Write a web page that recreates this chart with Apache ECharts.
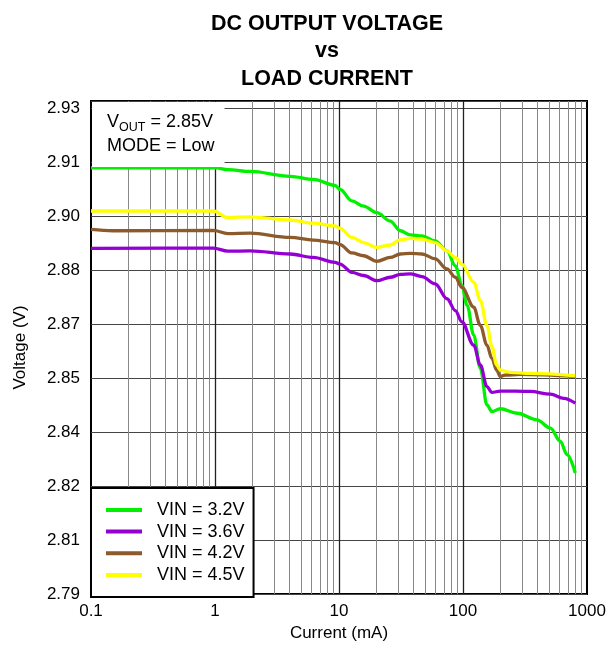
<!DOCTYPE html>
<html>
<head>
<meta charset="utf-8">
<script src="https://cdn.jsdelivr.net/npm/echarts@6/dist/echarts.min.js"></script>
<style>
  html, body { margin: 0; padding: 0; background: #fff; }
  #chart { width: 609px; height: 647px; }
</style>
</head>
<body>
<div id="chart"></div>
<script>
// load current (mA) / output voltage (V)
const vin32 = [
  [0.1, 2.9128], [0.5, 2.9128], [1.03, 2.9128], [1.27, 2.9123], [1.92, 2.9118],
  [4.04, 2.9104], [6.23, 2.9095], [9.3, 2.9078], [10.2, 2.9066], [12.7, 2.9033],
  [15.8, 2.9018], [20.2, 2.8999], [25.9, 2.8975], [31.2, 2.8947], [37.6, 2.8935],
  [46.7, 2.8932], [59.7, 2.8918], [74.3, 2.8889], [86.7, 2.8846], [98, 2.8789],
  [108, 2.8732], [122, 2.8646], [138, 2.8550], [156, 2.8445], [171, 2.8426],
  [200, 2.8434], [273, 2.8421], [395, 2.8402], [507, 2.8378], [610, 2.8340],
  [690, 2.8302], [805, 2.8249]
];
const vin36 = [
  [0.1, 2.8896], [0.97, 2.8897], [1.27, 2.8888], [1.92, 2.8889], [4.04, 2.8880],
  [6.2, 2.8870], [9.3, 2.8856], [10.2, 2.8851], [12.7, 2.8827], [15.8, 2.8818],
  [20.2, 2.8803], [25.9, 2.8813], [31.2, 2.8821], [37.6, 2.8823], [46.7, 2.8815],
  [59.7, 2.8794], [74.3, 2.8751], [86.7, 2.8717], [98, 2.8684], [122, 2.8617],
  [138, 2.8560], [156, 2.8498], [171, 2.8481], [200, 2.8485], [349, 2.8484],
  [507, 2.8476], [650, 2.8464], [805, 2.8450]
];
const vin42 = [
  [0.1, 2.8951], [0.15, 2.8947], [0.97, 2.8948], [1.27, 2.8939], [1.92, 2.8940],
  [4.04, 2.8928], [6.2, 2.8920], [9.3, 2.8913], [10.2, 2.8907], [12.7, 2.8883],
  [15.8, 2.8875], [20.2, 2.8859], [25.9, 2.8870], [31.2, 2.8880], [37.6, 2.8882],
  [46.7, 2.8880], [59.7, 2.8866], [74.3, 2.8837], [86.7, 2.8813], [98, 2.8784],
  [122, 2.8727], [138, 2.8674], [156, 2.8617], [171, 2.8579], [187, 2.8545],
  [200, 2.8527], [218, 2.8531], [290, 2.8533], [805, 2.8527]
];
const vin45 = [
  [0.1, 2.9004], [0.97, 2.9004], [1.27, 2.8985], [1.92, 2.8987], [4.04, 2.8978],
  [6.2, 2.8969], [9.3, 2.8961], [10.2, 2.8954], [12.7, 2.8928], [15.8, 2.8913],
  [20.2, 2.8899], [25.9, 2.8906], [31.2, 2.8921], [37.6, 2.8925], [46.7, 2.8923],
  [59.7, 2.8913], [74.3, 2.8889], [86.7, 2.8870], [98, 2.8851], [122, 2.8799],
  [138, 2.8746], [156, 2.8674], [171, 2.8613], [187, 2.8560], [200, 2.8545],
  [241, 2.8539], [349, 2.8536], [805, 2.8529]
];

const seriesNames = ['VIN = 3.2V', 'VIN = 3.6V', 'VIN = 4.2V', 'VIN = 4.5V'];
const seriesColors = ['#00f000', '#9400d3', '#8c5a2b', '#ffff00'];

const xTickLabels = ['0.1', '1', '10', '100', '1000'];
const yTickLabels = ['2.79', '2.81', '2.82', '2.84', '2.85', '2.87', '2.88', '2.90', '2.91', '2.93'];

// y axis: 9 equal steps from 2.79 to 2.93, frame sits a little above the top line
const yMin = 2.79;
const yStep = 0.14 / 9;
const yMax = 2.9321;

// vertical grid: decades dark, 2..9 in every decade grey
const majorLines = [1, 10, 100].map(v => ({ xAxis: v }));
const minorLines = [];
[0.1, 1, 10, 100].forEach(d => {
  for (let m = 2; m <= 9; m++) minorLines.push({ xAxis: +(m * d).toPrecision(3) });
});

const font = '"Liberation Sans", Arial, sans-serif';
const chart = echarts.init(document.getElementById('chart'));

const gridLineSeries = (lines, color, width) => ({
  type: 'line',
  data: [],
  z: 1,
  silent: true,
  markLine: {
    z: 1,
    silent: true,
    symbol: 'none',
    label: { show: false },
    lineStyle: { color: color, width: width, type: 'solid' },
    data: lines
  }
});

const lineSeries = [vin32, vin36, vin42, vin45].map((data, i) => ({
  name: seriesNames[i],
  type: 'line',
  data: data,
  color: seriesColors[i],
  symbol: 'none',
  smooth: 0.35,
  smoothMonotone: 'x',
  lineStyle: { width: 3.3 },
  z: 3
}));

chart.setOption({
  animation: false,
  title: [
    {
      text: 'DC OUTPUT VOLTAGE\nvs\nLOAD CURRENT',
      left: 322,
      top: 5,
      textAlign: 'center',
      textStyle: { fontFamily: font, fontSize: 21.5, fontWeight: 'bold', color: '#000', lineHeight: 27.5 }
    },
    {
      // conditions box in the top-left corner of the plot, white so it hides the grid
      text: '{a|V}{b|OUT}{a| = 2.85V}\n{a|MODE = Low}',
      left: 92,
      top: 102,
      z: 10,
      padding: [8, 10, 9, 15],
      backgroundColor: '#fff',
      textStyle: {
        fontFamily: font, fontSize: 18, fontWeight: 'normal', color: '#000', lineHeight: 24,
        rich: {
          a: { fontFamily: font, fontSize: 18, lineHeight: 24, color: '#000' },
          b: { fontFamily: font, fontSize: 12.5, lineHeight: 14, verticalAlign: 'bottom', color: '#000' }
        }
      }
    }
  ],
  grid: {
    left: 91, right: 22, top: 101, bottom: 50,
    show: true, borderColor: '#000', borderWidth: 2
  },
  xAxis: {
    type: 'log',
    logBase: 10,
    min: 0.1,
    max: 1000,
    name: 'Current (mA)',
    nameLocation: 'middle',
    nameGap: 31,
    nameTextStyle: { fontFamily: font, fontSize: 17, color: '#000' },
    axisLine: { show: false },
    axisTick: { show: false },
    axisLabel: {
      fontFamily: font, fontSize: 17, color: '#000', margin: 9,
      formatter: v => xTickLabels[Math.round(Math.log10(v)) + 1]
    },
    splitLine: { show: false }
  },
  yAxis: {
    type: 'value',
    min: yMin,
    max: yMax,
    interval: yStep,
    name: 'Voltage (V)',
    nameLocation: 'middle',
    nameGap: 62,
    nameTextStyle: { fontFamily: font, fontSize: 17, color: '#000' },
    axisLine: { show: false },
    axisTick: { show: false },
    axisLabel: {
      fontFamily: font, fontSize: 17, color: '#000', margin: 11,
      formatter: v => {
        const k = Math.round((v - yMin) / yStep);
        return Math.abs(v - (yMin + k * yStep)) < 1e-6 ? yTickLabels[k] : '';
      }
    },
    splitLine: { show: true, lineStyle: { color: '#444', width: 1.2 } }
  },
  legend: {
    data: seriesNames,
    orient: 'vertical',
    left: 91,
    bottom: 50,
    z: 20,
    icon: 'rect',
    itemWidth: 36,
    itemHeight: 4,
    itemGap: 3.7,
    padding: [13, 9, 13, 15],
    backgroundColor: '#fff',
    borderColor: '#000',
    borderWidth: 2,
    textStyle: { fontFamily: font, fontSize: 18, color: '#000', lineHeight: 18, padding: [0, 0, 0, 10] }
  },
  series: [
    gridLineSeries(minorLines, '#888', 1),
    gridLineSeries(majorLines, '#222', 1.3)
  ].concat(lineSeries)
});
</script>
</body>
</html>
